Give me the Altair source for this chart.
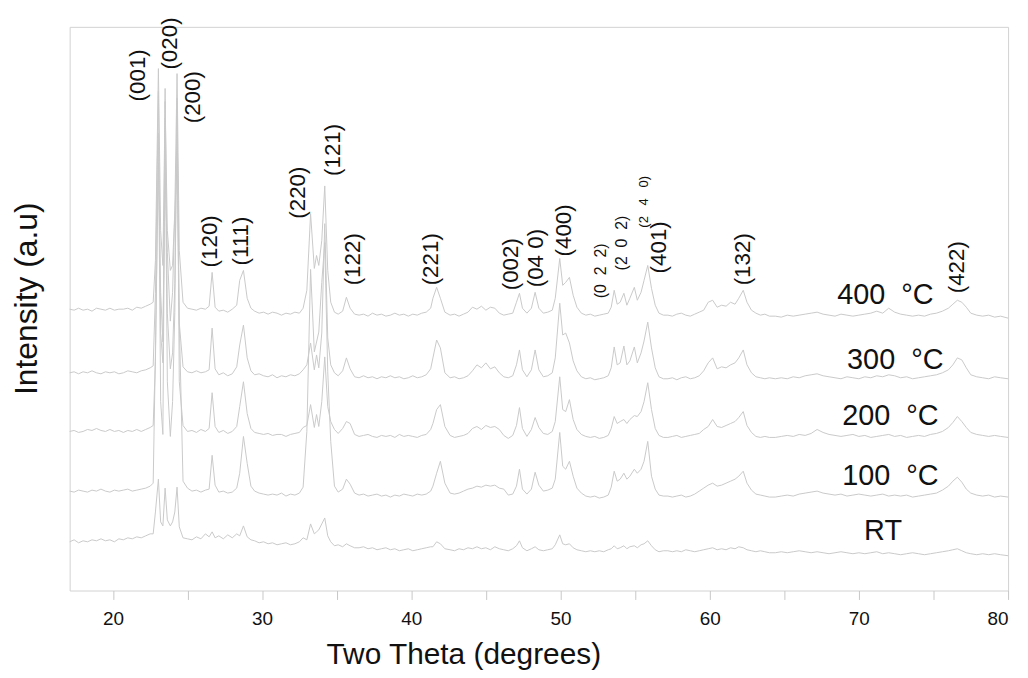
import altair as alt
import pandas as pd

# ---- 2-theta grid (degrees), split into regions ----
TT_A = [17.1, 17.4, 17.7, 18.0, 18.3, 18.6, 18.9, 19.2, 19.5, 19.8, 20.1, 20.4, 20.7, 21.0, 21.3, 21.6, 21.9, 22.2, 22.5]
TT_B = [22.7, 22.85, 23.05, 23.2, 23.35, 23.5, 23.65, 23.85, 24.0, 24.15, 24.3, 24.45, 24.7]
TT_C = [25.0, 25.3, 25.6, 25.9, 26.2, 26.45, 26.65, 26.85, 27.1, 27.4, 27.7, 28.0, 28.3, 28.5, 28.75,
        29.0, 29.25, 29.5, 29.8, 30.1, 30.4, 30.7, 31.0, 31.3, 31.6, 31.9, 32.2, 32.5, 32.75]
TT_D = [33.0, 33.25, 33.5, 33.65, 33.8, 34.0, 34.2, 34.4, 34.6, 34.85, 35.1, 35.4, 35.65, 35.9, 36.2]
TT_E = [36.5, 36.8, 37.1, 37.4, 37.7, 38.0, 38.3, 38.6, 38.9, 39.2, 39.5, 39.8, 40.1, 40.4, 40.7, 41.0, 41.3]
TT_F = [41.45, 41.7, 41.95, 42.25, 42.6, 42.9, 43.2, 43.5, 43.8, 44.1,
        44.4, 44.7, 45.0, 45.3, 45.6, 45.9, 46.2, 46.5, 46.8, 47.05,
        47.25, 47.45, 47.75, 48.05, 48.3, 48.55, 48.85, 49.15, 49.45, 49.65,
        49.95, 50.15, 50.35, 50.6, 50.85, 51.1, 51.4, 51.7, 52.0, 52.3,
        52.6, 52.9, 53.2, 53.4, 53.6, 53.8, 54.0, 54.25, 54.45, 54.65,
        54.95, 55.15, 55.4, 55.6, 55.85, 56.1, 56.35, 56.6, 56.9]
TT_G = [57.2, 57.5, 57.8, 58.1, 58.4, 58.7, 59.0, 59.3, 59.6, 59.9,
        60.2, 60.5, 60.8, 61.1, 61.4, 61.7, 61.95, 62.25, 62.5, 62.8,
        63.1, 63.4, 63.7, 64.0]
TT_H = [64.4, 64.8, 65.2, 65.6, 66.0, 66.4, 66.8, 67.2, 67.6, 68.0,
        68.4, 68.8, 69.2, 69.6, 70.0, 70.4, 70.8, 71.2, 71.6, 72.0,
        72.4, 72.8, 73.2, 73.6, 74.0, 74.4, 74.8, 75.2, 75.6, 76.0,
        76.3, 76.6, 76.9, 77.2, 77.5, 77.9, 78.3, 78.7, 79.1, 79.5,
        80.0]
TT_REGIONS = [TT_A, TT_B, TT_C, TT_D, TT_E, TT_F, TT_G, TT_H]

# ---- intensities above each pattern's own baseline (a.u.), same regions ----
Y400 = [
    [1, 0, 2, 0, 1, -1, 2, 1, 0, 2, 0, 1, 1, 2, 0, 3, 2, 4, 6],
    [8, 50, 243, 80, 45, 210, 80, 40, 45, 100, 238, 60, 8],
    [2, 1, 0, 2, 1, 4, 38, 3, -1, 0, -2, 1, 5, 30, 40, 12, 2, -1, -3, -2, -4, -2, -3, -5, -3, -4, -2, -3, 2],
    [20, 97, 42, 55, 45, 70, 125, 40, 8, -2, -4, -1, 13, 2, -4],
    [-5, -4, -6, -3, -5, -4, -6, -5, -3, -5, -4, -6, -4, -5, -3, -2, 2],
    [12, 23, 12, -2, -5, -4, -6, -4, -2, 3,
     1, 4, 0, 3, 2, -3, -5, -4, -3, 8,
     17, 2, -3, 2, 18, 2, -3, -2, 0, 12,
     52, 25, 28, 33, 15, 3, -3, -5, -4, -6,
     -5, -4, -3, 3, 20, 6, 8, 17, 5, 12,
     23, 10, 18, 30, 45, 22, 5, -3, -5],
    [-5, -6, -4, -3, -5, -6, -4, -2, 0, 8, 10, 3, 5, 4, 8, 6, 12, 20, 8, 0, -3, -5, -4, -6],
    [-6, -7, -5, -6, -5, -4, -3, -2, -4, -5, -6, -4, -5, -6, -5, -4, -3, -1, -3, 2,
     -2, -4, -5, -6, -5, -6, -4, -3, -1, 2, 6, 10, 8, 3, -3, -5, -6, -5, -7, -6, -8],
]
Y300 = [
    [0, 1, -1, 1, 0, 2, 0, -1, 1, 0, 1, -1, 0, 2, 1, 0, 2, 3, 5],
    [7, 80, 283, 40, 10, 286, 60, 4, 20, 90, 263, 50, 6],
    [1, 0, 2, 0, 1, 3, 45, 4, -2, 0, -3, -1, 6, 28, 48, 15, 2, -2, -1, -3, -4, -2, -5, -3, -4, -2, -3, -1, 3],
    [8, 30, 3, 18, 5, 40, 150, 35, 8, 0, -3, 2, 15, 4, -4],
    [-5, -3, -5, -4, -6, -4, -5, -3, -5, -4, -6, -5, -3, -5, -4, -2, 4],
    [15, 33, 25, 0, -5, -4, -6, -5, -3, 2,
     8, 5, 10, 4, 6, 0, -4, -5, -3, 8,
     23, 3, -4, 3, 23, 3, -4, -3, 0, 15,
     70, 38, 40, 30, 12, 2, -4, -6, -5, -7,
     -6, -5, -3, 5, 26, 8, 10, 27, 8, 12,
     26, 10, 20, 32, 51, 25, 5, -4, -6],
    [-6, -5, -7, -5, -4, -6, -5, -3, 2, 10, 15, 4, 6, 5, 8, 10, 15, 23, 8, 0, -4, -5, -6, -5],
    [-6, -5, -6, -4, -5, -3, -2, -1, -3, -4, -5, -6, -4, -5, -6, -4, -5, -3, -4, -2,
     -3, -5, -4, -6, -5, -4, -3, -2, 0, 3, 8, 15, 13, 5, -2, -4, -5, -6, -4, -5, -6],
]
Y200 = [
    [0, 1, -1, 0, 2, 1, 3, 1, 0, 2, 0, 1, -1, 1, 0, 2, 0, 2, 4],
    [6, 70, 300, 30, -3, 315, 50, -5, 30, 120, 335, 50, 6],
    [0, 1, -1, 2, 0, 3, 39, 5, -1, 1, -2, 0, 5, 25, 50, 18, 3, -1, -2, -3, -2, -4, -3, -3, -5, -3, -2, -1, 4],
    [6, 27, 4, 17, 5, 30, 75, 25, 10, 2, -2, 3, 10, 8, -3],
    [-5, -4, -3, -5, -6, -4, -5, -4, -6, -3, -5, -4, -5, -6, -4, -3, 2],
    [8, 22, 27, 5, -4, -6, -5, -4, -2, 3,
     5, 2, 6, 4, 5, 2, -4, -7, -4, 6,
     24, 3, -5, 2, 14, 4, -2, -3, 0, 10,
     55, 22, 20, 32, 12, 2, -3, -5, -6, -5,
     -7, -6, -4, 3, 15, 8, 10, 12, 8, 12,
     16, 15, 20, 30, 49, 22, 3, -4, -6],
    [-6, -5, -4, -6, -5, -4, -3, -2, 2, 5, 12, 5, 4, 6, 8, 10, 14, 20, 6, -1, -5, -6, -5, -6],
    [-6, -5, -4, -5, -3, -4, -2, 2, -1, -3, -4, -5, -4, -3, -5, -4, -6, -5, -4, -3,
     -5, -4, -6, -5, -4, -5, -3, -2, 0, 4, 9, 15, 10, 4, -1, -3, -4, -5, -4, -5, -6],
]
Y100 = [
    [0, -1, 1, 0, -1, 1, 0, 2, 0, -1, 1, 0, 1, 2, 0, 1, 2, 3, 5],
    [8, 140, 330, 200, 150, 320, 240, 171, 200, 280, 330, 170, 10],
    [3, 0, 1, -1, 1, 2, 36, 6, -1, 0, -2, -1, 3, 18, 55, 28, 5, 0, -2, -3, -4, -3, -4, -2, -5, -3, -4, -2, 4],
    [60, 223, 140, 150, 160, 210, 250, 120, 50, 5, -1, 2, 12, 7, -2],
    [-4, -3, -5, -4, -3, -5, -4, -6, -4, -5, -3, -4, -5, -3, -4, -3, 0],
    [5, 18, 30, 8, -2, -3, -2, 0, 2, 3,
     5, 4, 6, 5, 6, 3, 2, -4, -3, 5,
     22, 2, -3, 2, 19, 6, 0, 1, 3, 12,
     59, 25, 22, 30, 15, 3, -2, -5, -6, -5,
     -7, -6, -4, 4, 20, 10, 12, 18, 12, 15,
     22, 18, 22, 30, 50, 15, 2, -4, -5],
    [-5, -6, -5, -4, -6, -5, -3, 0, 3, 6, 8, 5, 6, 8, 10, 12, 15, 20, 8, 1, -3, -4, -5, -6],
    [-6, -5, -4, -5, -3, -2, -1, 0, -2, -3, -4, -3, -5, -4, -3, -4, -5, -4, -3, -5,
     -4, -5, -4, -6, -5, -4, -3, -2, 1, 5, 10, 14, 9, 2, -2, -4, -5, -4, -6, -5, -6],
]
YRT = [
    [0, 2, -1, 1, 0, 2, 1, 3, 1, 2, 0, 3, 2, 4, 3, 5, 4, 6, 8],
    [8, 30, 63, 20, 16, 54, 22, 16, 20, 30, 55, 15, 4],
    [3, 2, 5, 3, 8, 5, 10, 4, 6, 3, 7, 4, 8, 6, 16, 5, 2, 1, -1, 0, -2, -1, -3, -2, -1, -3, -2, 0, 4],
    [2, 18, 8, 10, 12, 18, 24, 6, 0, -4, -3, -5, -2, -4, -6],
    [-6, -5, -7, -6, -8, -7, -6, -8, -7, -9, -8, -7, -9, -8, -7, -6, -5],
    [-5, 0, -2, -7, -8, -9, -7, -8, -6, -7,
     -5, -7, -6, -8, -5, -7, -8, -9, -7, -4,
     1, -6, -9, -7, -5, -8, -9, -8, -7, -3,
     7, -2, -3, -2, -6, -8, -9, -10, -9, -10,
     -9, -10, -8, -7, -4, -7, -6, -4, -7, -5,
     -4, -6, -3, -2, 1, -4, -8, -10, -9],
    [-9, -10, -9, -10, -8, -9, -10, -9, -8, -7, -6, -8, -7, -8, -6, -7, -5, -6, -8, -9, -10, -9, -10, -11],
    [-11, -10, -11, -10, -9, -10, -11, -10, -11, -12, -11, -10, -11, -12, -11, -12, -11, -10, -12, -11,
     -12, -13, -12, -11, -12, -13, -12, -11, -10, -9, -8, -7, -9, -11, -12, -13, -12, -13, -12, -13, -14],
]

SAMPLES = ["400 °C", "300 °C", "200 °C", "100 °C", "RT"]
OFFSETS = [282, 219, 160, 100, 49]          # vertical stacking offset of each pattern
TRACES = [Y400, Y300, Y200, Y100, YRT]

# ---- peak (hkl) annotations ----
HKL = ["(001)", "(020)", "(200)", "(120)", "(111)", "(220)", "(121)", "(122)", "(221)",
       "(002)", "(04\u00a00)", "(400)", "(401)", "(132)", "(422)"]
HKL_X = [21.71, 23.85, 25.38, 26.51, 28.58, 32.38, 34.78, 36.11, 41.31,
         46.71, 48.38, 50.25, 56.58, 62.24, 76.58]
HKL_Y = [492, 524, 470, 325, 327, 374, 417, 307, 307, 302, 305, 336, 319, 307, 299]

HKL_SMALL = ["(0\u00a0\u00a02\u00a0\u00a02)", "(2\u00a0\u00a00\u00a0\u00a02)"]
HKL_SMALL_X = [52.71, 54.11]
HKL_SMALL_Y = [294, 322]

HKL_TINY = ["(2\u00a0\u00a0\u00a04\u00a0\u00a0\u00a00)"]
HKL_TINY_X = [55.58]
HKL_TINY_Y = [365]

TEMP_TEXT = ["400\u00a0\u00a0°C", "300\u00a0\u00a0°C", "200\u00a0\u00a0°C", "100\u00a0\u00a0°C", "RT"]
TEMP_X = [68.55, 69.21, 68.88, 68.88, 70.35]
TEMP_Y = [297, 232, 175, 115, 60]

# ---- build table ----
TWO_THETA = [v for reg in TT_REGIONS for v in reg]
rows = []
for name, off, regions in zip(SAMPLES, OFFSETS, TRACES):
    for i, (tt_reg, reg) in enumerate(zip(TT_REGIONS, regions)):
        assert len(tt_reg) == len(reg), (name, i, len(tt_reg), len(reg))
    ys = [v for reg in regions for v in reg]
    for x, y in zip(TWO_THETA, ys):
        rows.append({"two_theta": x, "intensity": off + y, "sample": name})
df = pd.DataFrame(rows)

FONT = "Liberation Sans"
x_scale = alt.Scale(domain=[17.1, 80], nice=False, zero=False)
y_scale = alt.Scale(domain=[0, 567], nice=False)

X_AXIS = alt.Axis(values=list(range(20, 81, 5)),
                  labelExpr="datum.value % 10 === 0 ? datum.label : ''",
                  title="Two Theta (degrees)", grid=False, domain=False,
                  tickColor="#c8c8c8", tickSize=9, tickWidth=1,
                  labelFontSize=19, labelColor="#111111", labelPadding=10,
                  labelFont=FONT, titleFont=FONT,
                  titleFontSize=30, titleFontWeight="normal", titleColor="#111111",
                  titleX=396, titleY=64, titleBaseline="middle", titleAlign="center")
Y_AXIS = alt.Axis(title="Intensity (a.u)", labels=False, ticks=False, domain=False,
                  grid=False, titleFont=FONT, titleFontSize=32, titleFontWeight="normal",
                  titleColor="#111111", titleX=-43, titleY=273,
                  titleBaseline="middle", titleAlign="center")

lines = alt.Chart(df).mark_line(color="#cacaca", strokeWidth=1).encode(
    x=alt.X("two_theta:Q", scale=x_scale, axis=X_AXIS),
    y=alt.Y("intensity:Q", scale=y_scale, axis=Y_AXIS),
    detail="sample:N",
)

def text_layer(labels, xs, ys, size, **kw):
    d = pd.DataFrame({"label": labels, "x": xs, "y": ys})
    return alt.Chart(d).mark_text(font=FONT, fontSize=size, color="#111111", **kw).encode(
        x=alt.X("x:Q", scale=x_scale, axis=X_AXIS),
        y=alt.Y("y:Q", scale=y_scale, axis=Y_AXIS),
        text="label:N",
    )

peaks = text_layer(HKL, HKL_X, HKL_Y, 22.5, angle=270, align="left", baseline="middle")
peaks_small = text_layer(HKL_SMALL, HKL_SMALL_X, HKL_SMALL_Y, 16, angle=270, align="left", baseline="middle")
peaks_tiny = text_layer(HKL_TINY, HKL_TINY_X, HKL_TINY_Y, 13, angle=270, align="left", baseline="middle")
temps = text_layer(TEMP_TEXT, TEMP_X, TEMP_Y, 29, align="left", baseline="middle")

chart = alt.layer(lines, peaks, peaks_small, peaks_tiny, temps).properties(
    width=944, height=567,
    autosize=alt.AutoSizeParams(type="none"),
    padding={"left": 62, "top": 17, "right": 12, "bottom": 80},
).configure_view(stroke="#d2d2d2", strokeWidth=1)

chart.save("out.html", embed_options={"renderer": "svg", "actions": False})
